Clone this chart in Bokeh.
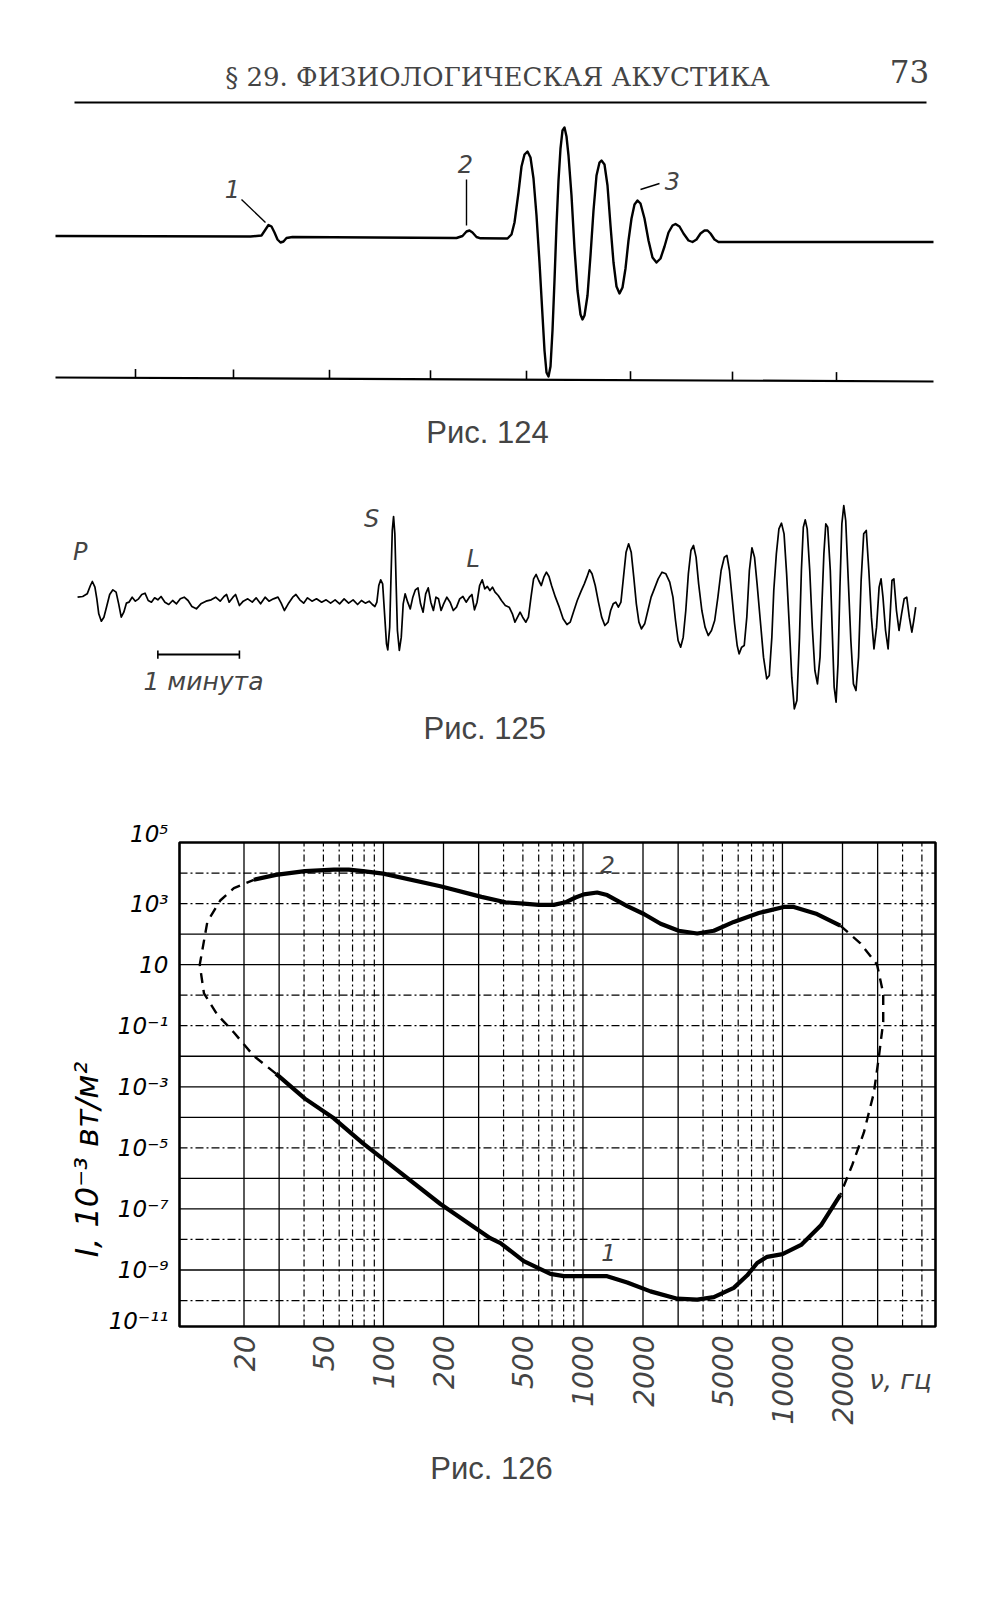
import math
from bokeh.plotting import figure
from bokeh.models import Range1d, Label, FixedTicker, CustomJSTickFormatter
from bokeh.embed import file_html
from bokeh.resources import INLINE

SERIF = "DejaVu Serif"
SANS = "Liberation Sans"
HAND = "DejaVu Sans"

# ---------------- Fig. 124 data (time in timer marks, amplitude in mm) ----------------
f124_t = [0.20, 2.15, 2.26, 2.30, 2.33, 2.36, 2.39, 2.42, 2.45, 2.48, 2.51, 2.57, 4.21, 4.27, 4.31, 4.34,
          4.37, 4.41, 4.45, 4.72, 4.76, 4.79, 4.83, 4.86, 4.89, 4.92, 4.95, 4.98, 5.01, 5.04, 5.07, 5.09,
          5.11, 5.13, 5.15, 5.17, 5.19, 5.21, 5.23, 5.25, 5.27, 5.29, 5.31, 5.33, 5.36, 5.39, 5.42, 5.45,
          5.47, 5.49, 5.52, 5.55, 5.58, 5.61, 5.64, 5.66, 5.69, 5.72, 5.75, 5.78, 5.81, 5.84, 5.87, 5.90,
          5.93, 5.96, 5.99, 6.02, 6.05, 6.09, 6.13, 6.17, 6.21, 6.25, 6.29, 6.33, 6.37, 6.40, 6.44, 6.48,
          6.53, 6.57, 6.61, 6.65, 6.69, 6.72, 6.75, 6.79, 6.83, 8.98]
f124_a = [0.15, 0.10, 0.20, 0.80, 1.25, 1.10, 0.50, -0.20, -0.50, -0.40, -0.05, 0.05, -0.05, 0.15, 0.60, 0.70,
          0.50, 0.05, -0.08, -0.10, 0.30, 1.50, 4.50, 7.10, 8.30, 8.60, 8.00, 5.90, 2.20, -2.50, -7.80, -11.30,
          -13.50, -13.90, -12.90, -9.30, -4.30, 1.20, 5.70, 8.90, 10.70, 11.00, 10.10, 8.20, 4.20, -1.10, -5.30, -7.70,
          -8.20, -7.80, -5.80, -1.80, 2.70, 6.20, 7.50, 7.70, 7.30, 5.20, 1.20, -2.50, -4.90, -5.60, -5.00, -3.10,
          -0.30, 1.90, 3.30, 3.70, 3.40, 1.90, -0.30, -2.00, -2.50, -2.10, -0.90, 0.50, 1.20, 1.35, 1.10, 0.40,
          -0.30, -0.45, -0.20, 0.40, 0.70, 0.70, 0.40, -0.20, -0.45, -0.45]
f124_timer_t = [0.20, 8.98]
f124_timer_a = [-14.0, -14.4]
f124_marks_t = [1.00, 1.98, 2.94, 3.95, 4.91, 5.95, 6.97, 8.01]
f124_marks_a = [-14.04, -14.09, -14.13, -14.18, -14.22, -14.27, -14.31, -14.36]
f124_labels = ["1", "2", "3"]
f124_label_t = [1.97, 4.30, 6.37]
f124_label_a = [4.9, 7.4, 5.7]
f124_lead_t0 = [2.06, 4.31, 6.05]
f124_lead_a0 = [3.8, 5.8, 4.8]
f124_lead_t1 = [2.30, 4.31, 6.24]
f124_lead_a1 = [1.5, 1.2, 5.4]

# ---------------- Fig. 125 data (record position, amplitude; arbitrary units) ----------------
seis_record = [
    (120, 15), (128, 17), (135, 25), (140, 50), (143, 62), (147, 45), (150, 10), (153, -35), (157, -57),
    (161, -45), (165, -15), (170, 23), (175, 37), (180, 30), (184, -5), (188, -45), (192, -30), (196, -3),
    (200, 0), (205, 15), (210, 3), (215, 10), (220, 23), (225, 27), (230, 5), (235, 0), (240, 13), (245, 7),
    (250, 17), (256, 0), (262, -7), (268, 5), (274, -5), (280, 10), (286, 15), (292, 5), (298, -13), (305, -20),
    (312, -5), (320, 3), (328, 7), (335, 15), (342, 3), (348, 17), (352, 23), (356, 0), (362, 15), (366, 23),
    (372, -10), (378, 3), (385, 10), (392, 0), (398, 13), (405, -5), (412, 15), (418, 3), (425, 10), (432, 15),
    (437, -3), (442, -25), (448, -5), (455, 15), (460, 23), (466, 7), (472, -3), (478, 13), (485, 3), (492, 10),
    (500, 0), (507, 7), (514, -3), (521, 7), (528, -5), (535, 10), (542, -3), (549, 7), (556, -7), (562, 5),
    (568, -3), (574, 3), (579, -7), (583, -13), (586, 0),
    (589, 50), (592, 67), (595, 55), (598, -35), (601, -125), (603, -143), (606, -75), (608, 75), (610, 215),
    (612, 257), (614, 205), (616, 55), (618, -85), (621, -145), (624, -105), (627, -5), (630, 25), (634, 0),
    (638, -20), (642, 15), (646, 37), (650, 43), (654, -5), (658, -30), (662, 25), (666, 43), (670, 0),
    (674, -25), (678, 15), (682, 10), (686, -25), (690, -5), (695, 15), (700, 0), (705, -25), (710, -15),
    (715, 10), (720, 17), (725, 0), (730, 15), (734, 23), (738, -23), (742, 0), (746, 50), (750, 67), (754, 40),
    (758, 47), (762, 35), (766, 45), (770, 30), (775, 20), (780, 5), (786, -10), (792, -15), (797, -35),
    (801, -60), (805, -45), (809, -30), (813, -45), (818, -60), (822, -45), (826, 15), (830, 70), (834, 83),
    (838, 65), (842, 50), (846, 75), (850, 90), (854, 77), (858, 50), (864, 15), (870, -15), (876, -50),
    (882, -67), (887, -60), (892, -30), (898, 5), (904, 33), (909, 55), (913, 75), (917, 97), (921, 85),
    (926, 50), (931, 0), (936, -45), (941, -70), (946, -60), (950, -25), (954, -5), (958, 0), (962, -15),
    (966, 0), (970, 75), (974, 150), (978, 175), (982, 150), (986, 75), (990, -5), (994, -60), (998, -80),
    (1003, -65), (1008, -25), (1013, 15), (1018, 40), (1024, 70), (1030, 90), (1036, 85), (1042, 60),
    (1047, 15), (1051, -55), (1055, -115), (1059, -135), (1063, -105), (1067, -25), (1071, 85), (1075, 155),
    (1079, 170), (1083, 135), (1087, 55), (1092, -25), (1097, -75), (1102, -100), (1107, -85), (1112, -55),
    (1117, 15), (1122, 95), (1127, 135), (1131, 140), (1135, 95), (1139, 15), (1143, -65), (1147, -130),
    (1150, -155), (1154, -135), (1158, -130), (1162, -45), (1166, 95), (1170, 163), (1174, 135), (1178, 55),
    (1183, -55), (1188, -165), (1193, -230), (1197, -220), (1201, -105), (1204, 35), (1208, 145), (1212, 220),
    (1216, 237), (1220, 205), (1224, 85), (1228, -65), (1232, -225), (1236, -320), (1240, -295), (1244, -105),
    (1247, 95), (1250, 225), (1253, 247), (1256, 220), (1260, 95), (1264, -75), (1268, -205), (1272, -245),
    (1276, -165), (1279, -5), (1282, 145), (1285, 235), (1288, 225), (1292, 95), (1295, -85), (1298, -255),
    (1301, -300), (1304, -185), (1307, 45), (1310, 235), (1313, 290), (1316, 245), (1320, 65), (1324, -115),
    (1328, -245), (1332, -265), (1336, -165), (1340, 65), (1344, 205), (1348, 215), (1352, 95), (1356, -45),
    (1360, -140), (1364, -75), (1368, 45), (1371, 70), (1374, 15), (1378, -85), (1382, -140), (1385, -45),
    (1388, 65), (1391, 70), (1395, -25), (1399, -85), (1403, -35), (1407, 10), (1411, 15), (1415, -45),
    (1419, -90), (1422, -55), (1425, -15)]
seis_t = [p[0] for p in seis_record]
seis_a = [p[1] for p in seis_record]
scale_bar_t = [245, 372]     # one minute
scale_bar_a = [-157, -157]
wave_labels = ["P", "S", "L"]
wave_label_t = [124, 578, 736]
wave_label_a = [151, 250, 130]

# ---------------- Fig. 126 data (frequency, Hz; intensity, 10^-3 W/m^2) ----------------
pain_f = [22.4, 28.9, 40.4, 56.4, 67, 79, 99.7, 193, 310, 409, 505, 601, 715, 817, 918, 1010, 1178, 1322,
          1667, 2020, 2450, 3020, 3740, 4530, 5700, 7610, 10150, 11400, 14900, 19500]
pain_I = [6.0e3, 8.7e3, 1.15e4, 1.3e4, 1.3e4, 1.15e4, 9.6e3, 3.7e3, 1.66e3, 1.1e3, 1.0e3, 910, 910, 1.1e3,
          1.58e3, 2.0e3, 2.3e3, 1.9e3, 830, 455, 219, 129, 105, 129, 251, 490, 776, 776, 455, 191]
hear_f = [28.9, 40.4, 56.4, 79, 99.7, 193, 343, 386, 505, 687, 802, 1010, 1322, 1667, 2180, 2970, 3740,
          4530, 5700, 6660, 7470, 8380, 10000, 12400, 15600, 19500]
hear_I = [2.7e-3, 4.1e-4, 9.3e-5, 1.4e-5, 4.3e-6, 1.45e-7, 1.1e-8, 7.6e-9, 1.95e-9, 7.5e-10, 6.3e-10,
          6.3e-10, 6.3e-10, 3.9e-10, 2.0e-10, 1.15e-10, 1.07e-10, 1.3e-10, 2.6e-10, 6.7e-10, 1.7e-9, 2.7e-9,
          3.3e-9, 6.6e-9, 2.9e-8, 2.9e-7]
right_f = [19500, 24600, 29800, 32000, 32000, 30400, 28700, 25600, 22400, 19500]
right_I = [191, 50, 10, 1.15, 0.134, 9.1e-3, 6.2e-4, 3.2e-5, 2.8e-6, 2.9e-7]
left_f = [28.9, 22.4, 17.8, 14.7, 12.6, 12.0, 13.1, 15.2, 17.8, 22.4]
left_I = [2.7e-3, 0.0102, 0.060, 0.23, 1.15, 10, 251, 1.26e3, 3.2e3, 6.0e3]
freq_ticks = [20, 50, 100, 200, 500, 1000, 2000, 5000, 10000, 20000]
freq_tick_labels = ["20", "50", "100", "200", "500", "1000", "2000", "5000", "10000", "20000"]
int_ticks = [1e3, 1e1, 1e-1, 1e-3, 1e-5, 1e-7, 1e-9]
f_min, f_max = 9.5, 58500.0          # plot-box limits
I_min, I_max = 10 ** -10.85, 1e5

PAGE_W = 1000

# ====================== Figure A: header + Fig. 124 ======================
fa = figure(width=PAGE_W, height=460, x_range=Range1d(-0.35, 9.65), y_range=Range1d(-22.3, 23.7),
            output_backend="svg", toolbar_location=None, x_axis_location=None, y_axis_location=None,
            min_border=0, outline_line_color=None)
fa.grid.visible = False
fa.add_layout(Label(x=4.62, y=16.1, text="§ 29. ФИЗИОЛОГИЧЕСКАЯ АКУСТИКА", text_font=SERIF,
                    text_font_size="26px", text_align="center", text_baseline="middle"))
fa.add_layout(Label(x=8.74, y=16.6, text="73", text_font=SERIF, text_font_size="31px",
                    text_align="center", text_baseline="middle"))
fa.segment(x0=[0.39], y0=[13.5], x1=[8.91], y1=[13.5], line_width=2.2, color="black")
fa.line(f124_t, f124_a, line_width=2.4, color="black", line_join="round")
fa.line(f124_timer_t, f124_timer_a, line_width=2.2, color="black")
fa.segment(x0=f124_marks_t, y0=f124_marks_a, x1=f124_marks_t, y1=[v + 0.9 for v in f124_marks_a],
           line_width=1.6, color="black")
fa.segment(x0=f124_lead_t0, y0=f124_lead_a0, x1=f124_lead_t1, y1=f124_lead_a1, line_width=1.4, color="black")
for s, t, a in zip(f124_labels, f124_label_t, f124_label_a):
    fa.add_layout(Label(x=t, y=a, text=s, text_font=HAND, text_font_style="italic", text_font_size="24px",
                        text_align="center", text_baseline="middle"))
fa.add_layout(Label(x=4.52, y=-19.5, text="Рис. 124", text_font=SANS, text_font_size="31px",
                    text_align="center", text_baseline="middle"))

# ====================== Figure B: Fig. 125 ======================
fb = figure(width=PAGE_W, height=300, x_range=Range1d(0, 1557), y_range=Range1d(-475, 425),
            output_backend="svg", toolbar_location=None, x_axis_location=None, y_axis_location=None,
            min_border=0, outline_line_color=None)
fb.grid.visible = False
fb.line(seis_t, seis_a, line_width=1.7, color="black", line_join="round")
fb.line(scale_bar_t, scale_bar_a, line_width=1.8, color="black")
fb.segment(x0=scale_bar_t, y0=[-145, -145], x1=scale_bar_t, y1=[-170, -170], line_width=1.6, color="black")
for s, t, a in zip(wave_labels, wave_label_t, wave_label_a):
    fb.add_layout(Label(x=t, y=a, text=s, text_font=HAND, text_font_style="italic", text_font_size="24px",
                        text_align="center", text_baseline="middle"))
fb.add_layout(Label(x=316, y=-237, text="1 минута", text_font=HAND, text_font_style="italic",
                    text_font_size="25px", text_align="center", text_baseline="middle"))
fb.add_layout(Label(x=754, y=-379, text="Рис. 125", text_font=SANS, text_font_size="31px",
                    text_align="center", text_baseline="middle"))

# ====================== Figure C: Fig. 126 ======================
BOX_L, BOX_R, BOX_T, BOX_B = 179, 935, 842, 1326      # page pixels of the plot box
CAN_T, CAN_B = 760, 1500
FR_L, FR_R, FR_T = 176, 938, 818                      # drawing frame (a bit larger than the box)
LX = (math.log10(f_max) - math.log10(f_min)) / (BOX_R - BOX_L)   # decades per pixel
LY = (math.log10(I_max) - math.log10(I_min)) / (BOX_B - BOX_T)


def fx(px):  # page x (pixels) -> frequency
    return 10 ** (math.log10(f_min) + (px - BOX_L) * LX)


def fy(py):  # page y (pixels) -> intensity
    return 10 ** (math.log10(I_max) - (py - BOX_T) * LY)


fc = figure(frame_width=FR_R - FR_L, frame_height=CAN_B - FR_T, x_axis_type="log", y_axis_type="log",
            x_range=Range1d(fx(FR_L), fx(FR_R)), y_range=Range1d(fy(CAN_B), fy(FR_T)),
            output_backend="svg", toolbar_location=None, x_axis_location=None,
            min_border_left=FR_L, min_border_right=PAGE_W - FR_R, min_border_top=FR_T - CAN_T,
            min_border_bottom=0, outline_line_color=None)
fc.grid.visible = False

solid_v = [m * 10 ** k for k in range(1, 5) for m in (1, 2, 3) if 11 < m * 10 ** k < f_max]
dash_v = [m * 10 ** k for k in range(1, 5) for m in (4, 5, 6, 7, 8, 9) if 11 < m * 10 ** k < f_max]
solid_h = [10.0 ** e for e in (2, 1, -2, -3, -4, -6, -7, -9)]
dash_h = [10.0 ** e for e in (4, 3, 0, -1, -5, -8, -10)]
fc.segment(x0=solid_v, y0=[I_min] * len(solid_v), x1=solid_v, y1=[I_max] * len(solid_v),
           line_color="black", line_width=1.3)
fc.segment(x0=dash_v, y0=[I_min] * len(dash_v), x1=dash_v, y1=[I_max] * len(dash_v),
           line_color="black", line_width=1.2, line_dash="7 3 2 3")
fc.segment(x0=[f_min] * len(solid_h), y0=solid_h, x1=[f_max] * len(solid_h), y1=solid_h,
           line_color="black", line_width=1.3)
fc.segment(x0=[f_min] * len(dash_h), y0=dash_h, x1=[f_max] * len(dash_h), y1=dash_h,
           line_color="black", line_width=1.2, line_dash="8 3 2 3")
fc.quad(left=[f_min], right=[f_max], bottom=[I_min], top=[I_max], fill_color=None,
        line_color="black", line_width=2.6)

fc.line(pain_f, pain_I, line_width=4.2, color="black", line_join="round")
fc.line(hear_f, hear_I, line_width=4.2, color="black", line_join="round")
fc.line(right_f, right_I, line_width=2.4, color="black", line_dash="10 7")
fc.line(left_f, left_I, line_width=2.4, color="black", line_dash="10 7")

sup_code = """
const e = Math.round(Math.log10(tick));
if (e === 1) { return "10"; }
const sup = {"-": "\u207b", "0": "\u2070", "1": "\u00b9", "2": "\u00b2", "3": "\u00b3", "4": "\u2074",
             "5": "\u2075", "6": "\u2076", "7": "\u2077", "8": "\u2078", "9": "\u2079"};
return "10" + String(e).split("").map(c => sup[c]).join("");
"""
ya = fc.yaxis[0]
# the printed labels 10^5 and 10^-11 sit just inside the ends of the scale
ya.ticker = FixedTicker(ticks=[fy(833)] + int_ticks + [fy(1320)])
ya.formatter = CustomJSTickFormatter(code=sup_code)
ya.major_tick_line_color = None
ya.minor_tick_line_color = None
ya.axis_line_color = None
ya.major_label_standoff = 2
ya.major_label_text_font = HAND
ya.major_label_text_font_style = "italic"
ya.major_label_text_font_size = "23px"
ya.major_label_text_color = "black"
ya.axis_label = "I, 10⁻³ вт/м²"
ya.axis_label_text_font = HAND
ya.axis_label_text_font_style = "italic"
ya.axis_label_text_font_size = "32px"
ya.axis_label_text_color = "black"
ya.axis_label_standoff = 0

for f, s in zip(freq_ticks, freq_tick_labels):
    fc.add_layout(Label(x=f, y=fy(1335), text=s, angle=math.pi / 2, text_font=HAND,
                        text_font_style="italic", text_font_size="28px", text_align="right",
                        text_baseline="middle"))
fc.add_layout(Label(x=fx(900), y=fy(1379), text="ν, гц", text_font=HAND, text_font_style="italic",
                    text_font_size="26px", text_align="center", text_baseline="middle"))
fc.add_layout(Label(x=fx(607), y=fy(864), text="2", text_font=HAND, text_font_style="italic",
                    text_font_size="23px", text_align="center", text_baseline="middle"))
fc.add_layout(Label(x=fx(608), y=fy(1252), text="1", text_font=HAND, text_font_style="italic",
                    text_font_size="23px", text_align="center", text_baseline="middle"))
fc.add_layout(Label(x=fx(491), y=fy(1468), text="Рис. 126", text_font=SANS, text_font_size="31px",
                    text_align="center", text_baseline="middle"))

open("out.html", "w").write(file_html([fa, fb, fc], INLINE))
